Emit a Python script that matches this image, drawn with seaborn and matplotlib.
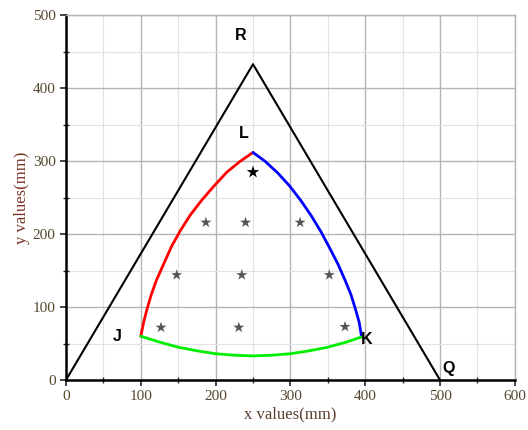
import pandas as pd
import matplotlib.pyplot as plt
import seaborn as sns
from matplotlib.ticker import MultipleLocator

# Outer triangle J..Q..R corners
tri_x = [0, 250, 500, 0]
tri_y = [0, 433, 0, 0]

# Curved sides
red_x = [100, 104, 108, 114, 121, 131, 141, 153, 166, 181, 197, 215, 233, 250]
red_y = [60, 80, 96, 117, 137, 160, 183, 205, 226, 246, 265, 285, 300, 312]

blue_x = [250, 266, 283, 299, 314, 328, 341, 353, 364, 373, 381, 387, 392, 395]
blue_y = [312, 300, 284, 266, 246, 225, 203, 180, 158, 137, 117, 97, 79, 60]

green_x = [100, 125, 150, 175, 200, 225, 250, 275, 300, 325, 350, 375, 395]
green_y = [60, 52, 45, 40, 36, 34, 33, 34, 36, 40, 45, 52, 59]

# Star markers
star_x = [187, 240, 313, 148, 235, 352, 127, 231, 373]
star_y = [216, 216, 216, 144, 144, 144, 72, 72, 73]
top_star = (250, 285)

# Point labels
labels = ["R", "L", "J", "K", "Q"]
label_x = [234, 237, 68, 402, 511]
label_y = [472, 338, 60, 56, 16]

sns.set_style("white")

fig = plt.figure(figsize=(5.28, 4.30), dpi=100)
ax = fig.add_axes([0.125, 0.1163, 0.85, 0.848])

sns.lineplot(x=tri_x, y=tri_y, sort=False, color="black", lw=1.5, ax=ax)
sns.lineplot(x=red_x, y=red_y, sort=False, color="#ff0000", lw=2, ax=ax)
sns.lineplot(x=blue_x, y=blue_y, sort=False, color="#0000ff", lw=2, ax=ax)
sns.lineplot(x=green_x, y=green_y, sort=False, color="#00ee00", lw=2, ax=ax)

sns.scatterplot(x=star_x, y=star_y, marker="*", s=70, color="#555555",
                edgecolor="none", ax=ax, zorder=5)
sns.scatterplot(x=[top_star[0]], y=[top_star[1]], marker="*", s=90, color="black",
                edgecolor="none", ax=ax, zorder=5)

for t, lx, ly in zip(labels, label_x, label_y):
    ax.text(lx, ly, t, fontsize=11.5, fontweight="bold", family="Liberation Sans",
            ha="center", va="center", color="black")

ax.set_xlim(0, 600)
ax.set_ylim(0, 500)
ax.xaxis.set_major_locator(MultipleLocator(100))
ax.yaxis.set_major_locator(MultipleLocator(100))
ax.xaxis.set_minor_locator(MultipleLocator(50))
ax.yaxis.set_minor_locator(MultipleLocator(50))
ax.grid(which="major", color="#b4b4b4", lw=1)
ax.grid(which="minor", color="#e2e2e2", lw=0.8)
ax.set_axisbelow(True)

for side in ["top", "right"]:
    ax.spines[side].set_color("#b4b4b4")
    ax.spines[side].set_linewidth(1)
for side in ["left", "bottom"]:
    ax.spines[side].set_color("black")
    ax.spines[side].set_linewidth(1.8)

ax.tick_params(which="major", direction="out", length=4, width=1.2,
               labelsize=11, labelcolor="#54482f", bottom=True, left=True)
ax.tick_params(which="minor", direction="inout", length=4, width=1,
               bottom=True, left=True)
for lab in ax.get_xticklabels() + ax.get_yticklabels():
    lab.set_family("Liberation Serif")

ax.set_xlabel("x values(mm)", family="Liberation Serif", fontsize=12,
              color="#5a3e30", labelpad=2)
ax.set_ylabel("y values(mm)", family="Liberation Serif", fontsize=12,
              color="#7a3528", labelpad=2)

fig.savefig("out.png", dpi=100)
